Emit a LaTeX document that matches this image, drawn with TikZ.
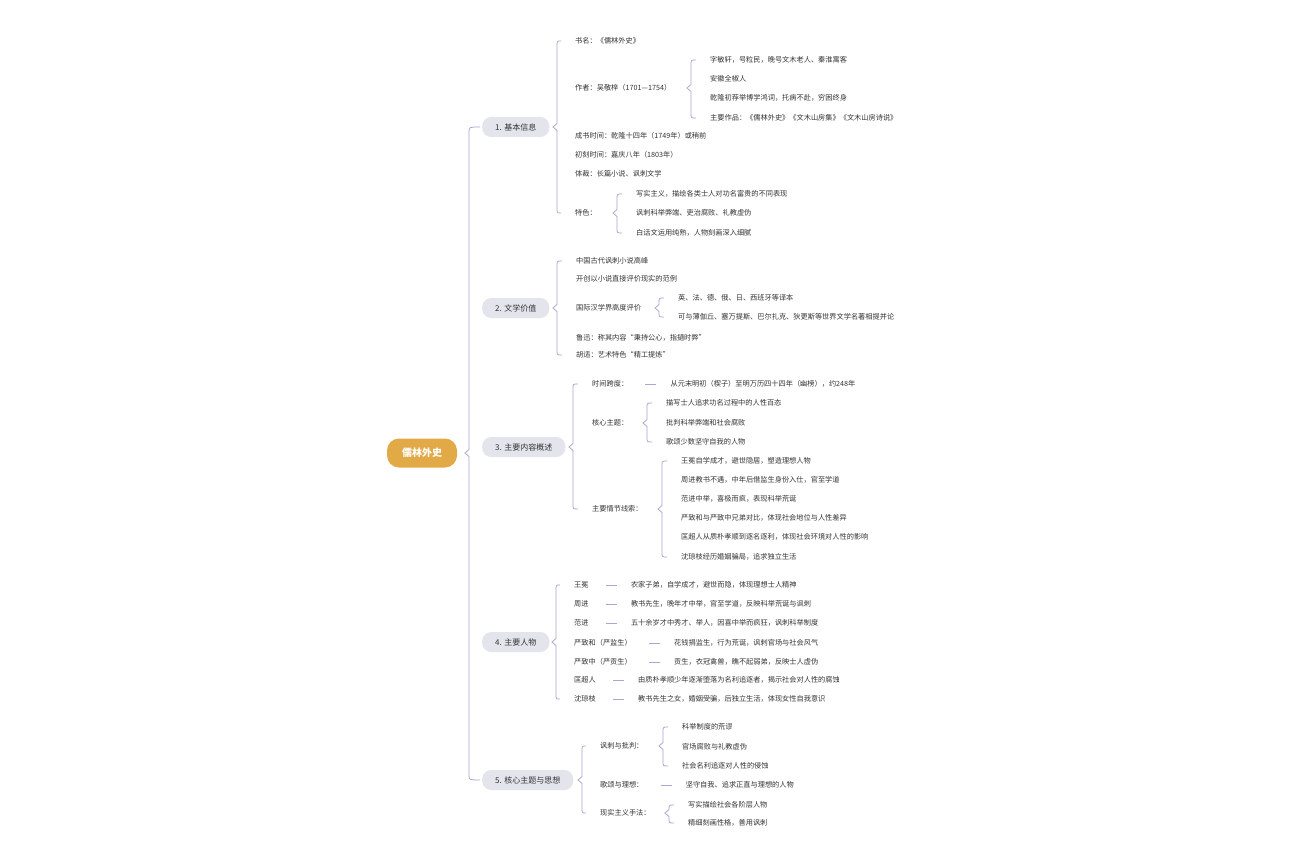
\documentclass[tikz,border=0pt]{standalone}
\usepackage{fontspec}
\setmainfont{Noto Sans CJK SC}
\usetikzlibrary{positioning,calc}

\definecolor{rootfill}{HTML}{E2AA47}
\definecolor{topicfill}{HTML}{E4E4ED}
\definecolor{linkcol}{HTML}{ABA7CC}
\definecolor{inkgray}{HTML}{333333}

% brace from a parent to the first and last of its children
\newcommand\mapbrace[4][7pt]{%
  \draw[link] let \p1=(#2.east), \p2=(#3.west), \p3=(#4.west) in
    (\x2-2pt,\y2) .. controls (\x2-#1,\y2) .. (\x2-#1,\y2-5pt)
    -- (\x2-#1,\y1+3.5pt) -- (\x2-#1-4pt,\y1) -- (\x2-#1,\y1-3.5pt)
    -- (\x2-#1,\y3+5pt) .. controls (\x2-#1,\y3) .. (\x2-2pt,\y3);}
% short dash to a single child
\newcommand\mapdash[2]{\draw[link] ([xshift=5pt]#1.east) -- ([xshift=-2pt]#2.west);}

\begin{document}
\begin{tikzpicture}[x=1pt, y=-1pt,
    root/.style={fill=rootfill, text=white, font=\fontsize{10}{12}\selectfont\bfseries, rounded corners=12pt, minimum height=29pt, inner xsep=15pt},
    topic/.style={fill=topicfill, text=inkgray, font=\fontsize{8}{10}\selectfont, rounded corners=9pt, minimum height=20pt, inner xsep=13pt, anchor=west},
    leaf/.style={text=inkgray, font=\fontsize{7.2}{9}\selectfont, inner xsep=12pt, inner ysep=2pt, anchor=west},
    link/.style={draw=linkcol, line width=0.8pt},
    node distance=18pt]
    \useasboundingbox[fill=white] (0,0) rectangle (1296,864);

    \node[root] (root) at (422,453) {儒林外史};
    \node[topic] (t1) at (482,127) {1. 基本信息};
    \node[topic] (t2) at (482,308) {2. 文学价值};
    \node[topic] (t3) at (482,447) {3. 主要内容概述};
    \node[topic] (t4) at (482,642) {4. 主要人物};
    \node[topic] (t5) at (482,780) {5. 核心主题与思想};
    \mapbrace[13pt]{root}{t1}{t5}

    % 1
    \node[leaf] (a1) at (563,41) {书名：《儒林外史》};
    \node[leaf] (a2) at (563,88) {作者：吴敬梓（1701—1754）};
    \node[leaf] (a3) at (563,136) {成书时间：乾隆十四年（1749年）或稍前};
    \node[leaf] (a4) at (563,155) {初刻时间：嘉庆八年（1803年）};
    \node[leaf] (a5) at (563,174) {体裁：长篇小说、讽刺文学};
    \node[leaf] (a6) at (563,213) {特色：};
    \mapbrace[6pt]{t1}{a1}{a6}
    \node[leaf] (a21) at (698,60) {字敏轩，号粒民，晚号文木老人、秦淮寓客};
    \node[leaf] (a22) at (698,79) {安徽全椒人};
    \node[leaf] (a23) at (698,98) {乾隆初荐举博学鸿词，托病不赴，穷困终身};
    \node[leaf] (a24) at (698,118) {主要作品：《儒林外史》《文木山房集》《文木山房诗说》};
    \mapbrace{a2}{a21}{a24}
    \node[leaf] (a61) at (624,194) {写实主义，描绘各类士人对功名富贵的不同表现};
    \node[leaf] (a62) at (624,213) {讽刺科举弊端、吏治腐败、礼教虚伪};
    \node[leaf] (a63) at (624,233) {白话文运用纯熟，人物刻画深入细腻};
    \mapbrace{a6}{a61}{a63}

    % 2
    \node[leaf] (b1) at (564,261) {中国古代讽刺小说高峰};
    \node[leaf] (b2) at (564,279) {开创以小说直接评价现实的范例};
    \node[leaf] (b3) at (564,308) {国际汉学界高度评价};
    \node[leaf] (b4) at (564,338) {鲁迅：称其内容“秉持公心，指擿时弊”};
    \node[leaf] (b5) at (564,355) {胡适：艺术特色“精工提炼”};
    \mapbrace{t2}{b1}{b5}
    \node[leaf] (b31) at (666,298) {英、法、德、俄、日、西班牙等译本};
    \node[leaf] (b32) at (666,317) {可与薄伽丘、塞万提斯、巴尔扎克、狄更斯等世界文学名著相提并论};
    \mapbrace{b3}{b31}{b32}

    % 3
    \node[leaf] (c1) at (580,384) {时间跨度：};
    \node[leaf, right=of c1] (c11) {从元末明初（楔子）至明万历四十四年（幽榜），约248年};
    \node[leaf] (c2) at (580,423) {核心主题：};
    \node[leaf] (c3) at (580,509) {主要情节线索：};
    \mapbrace{t3}{c1}{c3}
    \mapdash{c1}{c11}
    \node[leaf] (c21) at (654,403) {描写士人追求功名过程中的人性百态};
    \node[leaf] (c22) at (654,423) {批判科举弊端和社会腐败};
    \node[leaf] (c23) at (654,442) {歌颂少数坚守自我的人物};
    \mapbrace{c2}{c21}{c23}
    \node[leaf] (c31) at (669,461) {王冕自学成才，避世隐居，塑造理想人物};
    \node[leaf] (c32) at (669,480) {周进教书不遇，中年后借监生身份入仕，官至学道};
    \node[leaf] (c33) at (669,499) {范进中举，喜极而疯，表现科举荒诞};
    \node[leaf] (c34) at (669,518) {严致和与严致中兄弟对比，体现社会地位与人性差异};
    \node[leaf] (c35) at (669,537) {匡超人从质朴孝顺到逐名逐利，体现社会环境对人性的影响};
    \node[leaf] (c36) at (669,557) {沈琼枝经历婚姻骗局，追求独立生活};
    \mapbrace{c3}{c31}{c36}

    % 4
    \node[leaf] (d1) at (562,585) {王冕};
    \node[leaf] (d2) at (562,604) {周进};
    \node[leaf] (d3) at (562,623) {范进};
    \node[leaf] (d4) at (562,643) {严致和（严监生）};
    \node[leaf] (d5) at (562,662) {严致中（严贡生）};
    \node[leaf] (d6) at (562,680) {匡超人};
    \node[leaf] (d7) at (562,699) {沈琼枝};
    \mapbrace[6pt]{t4}{d1}{d7}
    \node[leaf, right=of d1] (d11) {农家子弟，自学成才，避世而隐，体现理想士人精神};
    \node[leaf, right=of d2] (d21) {教书先生，晚年才中举，官至学道，反映科举荒诞与讽刺};
    \node[leaf, right=of d3] (d31) {五十余岁才中秀才、举人，因喜中举而疯狂，讽刺科举制度};
    \node[leaf, right=of d4] (d41) {花钱捐监生，行为荒诞，讽刺官场与社会风气};
    \node[leaf, right=of d5] (d51) {贡生，衣冠禽兽，瞧不起弱弟，反映士人虚伪};
    \node[leaf, right=of d6] (d61) {由质朴孝顺少年逐渐堕落为名利追逐者，揭示社会对人性的腐蚀};
    \node[leaf, right=of d7] (d71) {教书先生之女，婚姻受骗，后独立生活，体现女性自我意识};
    \foreach \k in {1,...,7} {\mapdash{d\k}{d\k1}}

    % 5
    \node[leaf] (e1) at (588,746) {讽刺与批判：};
    \node[leaf] (e2) at (588,785) {歌颂与理想：};
    \node[leaf] (e3) at (588,813) {现实主义手法：};
    \mapbrace[6pt]{t5}{e1}{e3}
    \node[leaf] (e11) at (670,727) {科举制度的荒谬};
    \node[leaf] (e12) at (670,747) {官场腐败与礼教虚伪};
    \node[leaf] (e13) at (670,766) {社会名利追逐对人性的侵蚀};
    \mapbrace{e1}{e11}{e13}
    \node[leaf, right=of e2] (e21) {坚守自我、追求正直与理想的人物};
    \mapdash{e2}{e21}
    \node[leaf] (e31) at (676,805) {写实描绘社会各阶层人物};
    \node[leaf] (e32) at (676,823) {精细刻画性格，善用讽刺};
    \mapbrace{e3}{e31}{e32}
\end{tikzpicture}
\end{document}
